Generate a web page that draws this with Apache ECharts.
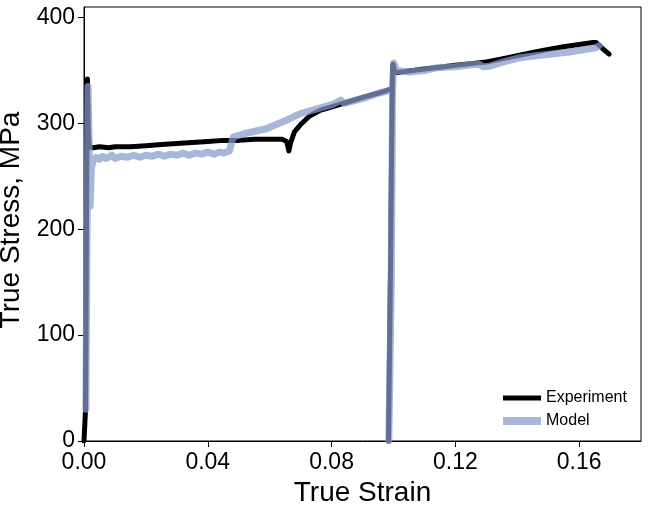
<!DOCTYPE html>
<html>
<head>
<meta charset="utf-8">
<script src="https://cdn.jsdelivr.net/npm/echarts@6/dist/echarts.min.js"></script>
<style>html,body{margin:0;padding:0;background:#fff}#c{width:649px;height:508px}</style>
</head>
<body>
<div id="c"></div>
<script>
// Experiment (true strain, true stress MPa)
const expX = [0.0000,0.0002,0.0005,0.0008,0.0011,0.0014,0.0017,0.003,0.005,0.008,0.010,0.015,0.020,0.025,0.030,0.035,0.040,0.045,0.050,0.055,0.060,0.064,0.0655,0.0662,0.0668,0.068,0.070,0.0729,0.076,0.0804,0.085,0.0912,0.095,0.0987,
  null,
  0.0984,0.0990,0.0995,0.0997,0.0999,0.1003,0.101,0.105,0.110,0.115,0.120,0.125,0.130,0.135,0.140,0.145,0.150,0.155,0.160,0.1645,0.1655,0.1675,0.1697];
const expY = [0,0,30,200,342,290,278,277,278,277,278,278,279,280,281,282,283,284,284,285,285,285,283,274,282,292,299,307,312,316,320,325.5,328.5,332,
  null,
  0,150,300,352,356,350,348,349.5,351.5,353,355,356.5,358,361,364,367,370,372.5,374.5,376.5,376.5,371,365.5];
// Model
const modX = [0.0006,0.0010,0.0013,0.0016,0.0020,0.0024,0.003,0.004,0.005,0.006,0.007,0.008,0.009,0.010,0.012,0.014,0.016,0.018,0.020,0.022,0.024,0.026,0.028,0.030,0.032,0.034,0.036,0.038,0.040,0.042,0.044,0.0452,0.047,0.0482,0.052,0.0589,0.065,0.0697,0.075,0.0804,0.083,0.0835,0.084,0.0912,0.095,0.0987,
  null,
  0.0976,0.0985,0.0993,0.0997,0.1001,0.101,0.105,0.110,0.1138,0.120,0.125,0.1277,0.129,0.131,0.1353,0.140,0.146,0.1568,0.1654,0.1665];
const modY = [30,200,335,290,222,258,265,268,266,269,267,268,270,267,269,268,270,268,270,269,271,269,271,270,272,270,272,271,273,271,273,272,274,287,290.5,295,302.5,309,313.5,318,322,323.5,319,324.5,328.5,331,334,
  null,
  0,150,330,357,350,348.5,350,352.5,353.5,355.5,356,353.5,354,358,361.5,364,367.5,371.5,373.5,370.5];
const xTicks = [0, 0.04, 0.08, 0.12, 0.16];
const yTicks = [0, 100, 200, 300, 400];

function pts(xs, ys){ return xs.map((x,i)=> x===null ? ['-','-'] : [x, ys[i]]); }

const FONT = '"Liberation Sans", Arial, Helvetica, sans-serif';
const modelColor = 'rgba(133,154,203,0.72)';
const chart = echarts.init(document.getElementById('c'), null, {renderer:'canvas'});
chart.setOption({
  animation: false,
  backgroundColor: '#fff',
  grid: {left: 84, top: 7, right: 8, bottom: 67, containLabel: false, outerBoundsMode: 'none', show: true, borderColor: '#000', borderWidth: 1},
  xAxis: {
    type: 'value', min: 0, max: 0.18,
    name: 'True Strain', nameLocation: 'middle', nameGap: 33,
    nameTextStyle: {fontFamily: FONT, fontSize: 28, color: '#000'},
    axisLine: {show: true, lineStyle: {color: '#000', width: 1}},
    axisTick: {show: true, inside: false, length: 6, lineStyle: {color: '#000'}, customValues: xTicks},
    axisLabel: {fontFamily: FONT, fontSize: 23, color: '#000', margin: 10, customValues: xTicks, formatter: v => v.toFixed(2)},
    splitLine: {show: false}
  },
  yAxis: {
    type: 'value', min: 0, max: 410,
    name: 'True Stress, MPa', nameLocation: 'middle', nameGap: 38,
    nameTextStyle: {fontFamily: FONT, fontSize: 28, color: '#000', padding: [0, 0, 0, 8]},
    axisLine: {show: true, lineStyle: {color: '#000', width: 1}},
    axisTick: {show: true, inside: false, length: 6, lineStyle: {color: '#000'}, customValues: yTicks},
    axisLabel: {fontFamily: FONT, fontSize: 23, color: '#000', margin: 9, customValues: yTicks},
    splitLine: {show: false}
  },
  legend: [
    {data: [{name: 'Experiment', icon: 'rect'}], left: 498, top: 385, itemWidth: 38, itemHeight: 5, selectedMode: false,
     textStyle: {fontFamily: FONT, fontSize: 16, color: '#000'}},
    {data: [{name: 'Model', icon: 'rect'}], left: 498, top: 408, itemWidth: 38, itemHeight: 8, selectedMode: false,
     textStyle: {fontFamily: FONT, fontSize: 16, color: '#000'}}
  ],
  series: [
    {name: 'Experiment', type: 'line', data: pts(expX, expY), showSymbol: false, connectNulls: false,
     itemStyle: {color: '#000'}, lineStyle: {color: '#000', width: 5, cap: 'round', join: 'round'}, clip: true},
    {name: 'Model', type: 'line', data: pts(modX, modY), showSymbol: false, connectNulls: false,
     itemStyle: {color: modelColor}, lineStyle: {color: modelColor, width: 7, cap: 'round', join: 'round'}, clip: true}
  ]
});
</script>
</body>
</html>
